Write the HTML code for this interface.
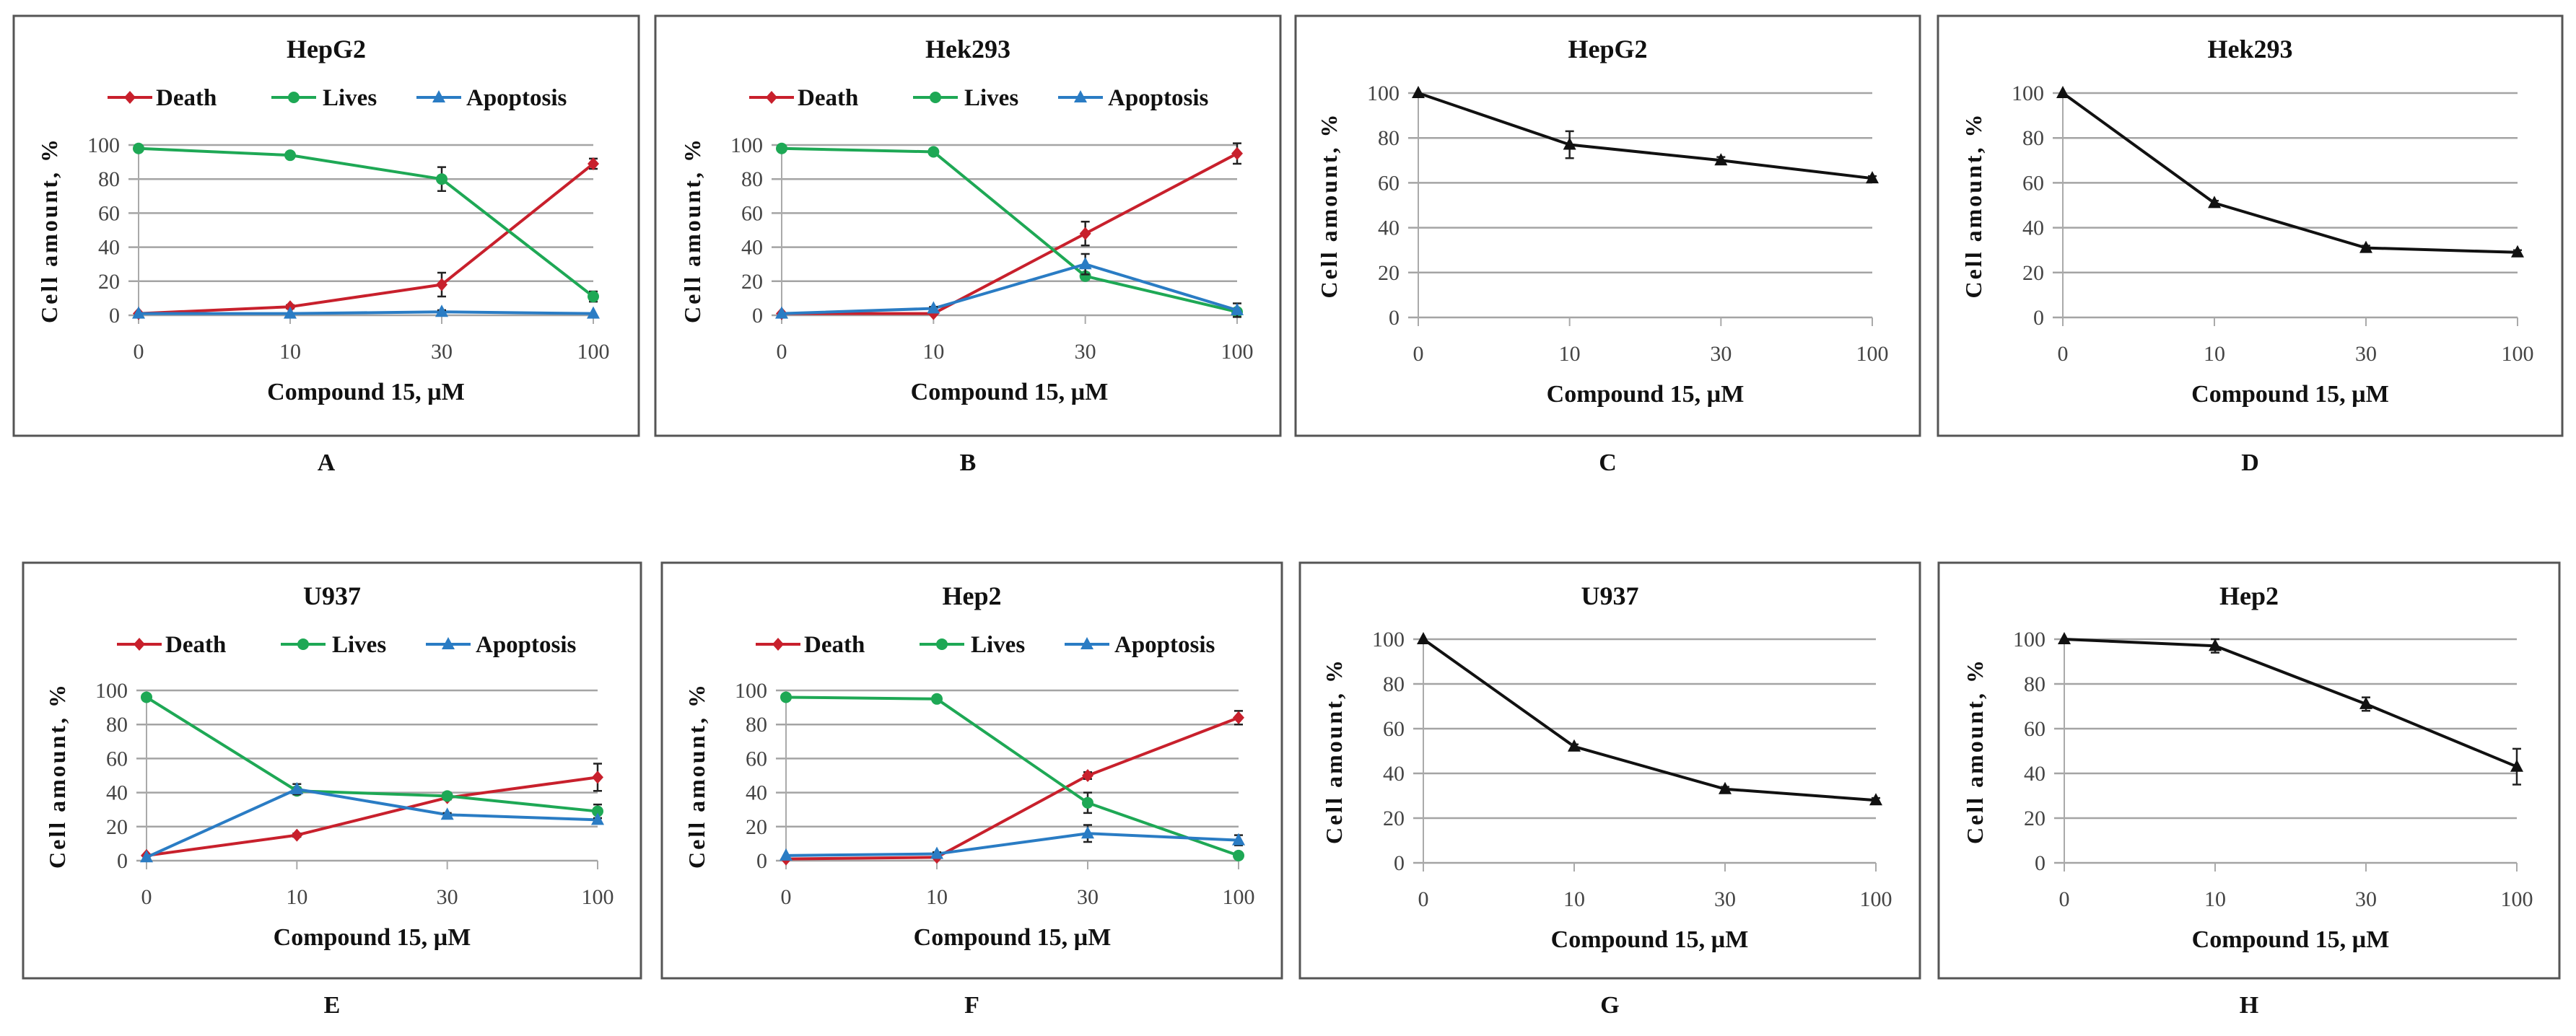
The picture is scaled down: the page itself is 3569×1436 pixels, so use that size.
<!DOCTYPE html>
<html><head><meta charset="utf-8"><style>
html,body{margin:0;padding:0;background:#fff;}
svg{display:block;}
text{font-family:"Liberation Serif","DejaVu Serif",serif;}
</style></head><body>
<svg id="fig" width="3569" height="1436" viewBox="0 0 3569 1436" xmlns="http://www.w3.org/2000/svg"></svg>
<script>
const categories = ["0","10","30","100"];
const yTicks = [0,20,40,60,80,100];
const seriesNames = ["Death","Lives","Apoptosis"];
// Panel A HepG2
const aDeath = [1,5,18,89];      const aDeathErr = [0,1,7,3];
const aLives = [98,94,80,11];    const aLivesErr = [0,1,7,3];
const aApop = [1,1,2,1];         const aApopErr = [0,0,1,0];
// Panel B Hek293
const bDeath = [1,1,48,95];      const bDeathErr = [0,0,7,6];
const bLives = [98,96,23,2];     const bLivesErr = [0,0,2,1];
const bApop = [1,4,30,3];        const bApopErr = [0,1,6,4];
// Panel C HepG2 viability
const cVals = [100,77,70,62];    const cErr = [0,6,1.5,1];
// Panel D Hek293 viability
const dVals = [100,51,31,29];    const dErr = [0,1,1,1];
// Panel E U937
const eDeath = [3,15,37,49];     const eDeathErr = [0,1,1,8];
const eLives = [96,41,38,29];    const eLivesErr = [0,2,2,4];
const eApop = [2,42,27,24];      const eApopErr = [0,3,1,1];
// Panel F Hep2
const fDeath = [1,2,50,84];      const fDeathErr = [0,0,2,4];
const fLives = [96,95,34,3];     const fLivesErr = [0,0,6,1];
const fApop = [3,4,16,12];       const fApopErr = [0,1,5,3];
// Panel G U937 viability
const gVals = [100,52,33,28];    const gErr = [0,1,1,1];
// Panel H Hep2 viability
const hVals = [100,97,71,43];    const hErr = [0,3,3,8];

const NS = "http://www.w3.org/2000/svg";
const svg = document.getElementById("fig");
function el(tag, attrs, parent){
  const e = document.createElementNS(NS, tag);
  for (const k in attrs) e.setAttribute(k, attrs[k]);
  (parent||svg).appendChild(e);
  return e;
}
const COLORS = {Death:"#c8202c", Lives:"#1ea855", Apoptosis:"#2a7cc4", Viability:"#111"};

function marker(g, kind, x, y, color){
  let m;
  if (kind==="Death"){
    m = el("polygon",{points:`${x},${y-9} ${x+8},${y} ${x},${y+9} ${x-8},${y}`,fill:color},g);
  } else if (kind==="Lives"){
    m = el("circle",{cx:x,cy:y,r:8,fill:color},g);
  } else {
    m = el("polygon",{points:`${x},${y-10} ${x+9},${y+7} ${x-9},${y+7}`,fill:color},g);
  }
  return m;
}

function panel(p){
  const g = el("g",{});
  
  
  const box = el("rect",{x:p.box[0],y:p.box[1],width:p.box[2]-p.box[0],height:p.box[3]-p.box[1],fill:"#fff",stroke:"#555","stroke-width":3},g);
  
  
  const xs = i => p.x0 + (p.x1 - p.x0) * i / (categories.length - 1);
  const ys = v => p.y0 - (p.y0 - p.y100) * v / 100;
  const cx = (p.box[0]+p.box[2])/2;
  const t = el("text",{x:cx,y:p.box[1]+58,"text-anchor":"middle","font-size":36,"font-weight":"bold",fill:"#111"},g);
  t.textContent = p.title;
  
  
  yTicks.forEach(v=>{
    const gl = el("line",{x1:p.x0-14,x2:p.x1,y1:ys(v),y2:ys(v),stroke:"#a4a4a4","stroke-width":2.5},g);
    
    
    const tl = el("text",{x:p.x0-26,y:ys(v)+10,"text-anchor":"end","font-size":30,fill:"#444"},g);
    tl.textContent = v;
    
    
  });
  const ya = el("line",{x1:p.x0,x2:p.x0,y1:p.y100,y2:p.y0+12,stroke:"#aaa","stroke-width":2},g);
  
  
  categories.forEach((c,i)=>{
    const tk = el("line",{x1:xs(i),x2:xs(i),y1:p.y0,y2:p.y0+12,stroke:"#aaa","stroke-width":2},g);
    
    
    const tl = el("text",{x:xs(i),y:p.y0+60,"text-anchor":"middle","font-size":30,fill:"#444"},g);
    tl.textContent = c;
    
    
  });
  const xt = el("text",{x:(p.x0+p.x1)/2,y:p.y0+117,"text-anchor":"middle","font-size":34,"font-weight":"bold",fill:"#111"},g);
  xt.textContent = "Compound 15, \u00b5M";
  
  
  const ylx = p.x0 - 113, yly = (p.y0 + p.y100)/2;
  const yt = el("text",{x:ylx,y:yly,"text-anchor":"middle","font-size":32,"font-weight":"bold",fill:"#111","letter-spacing":3,transform:`rotate(-90 ${ylx} ${yly})`},g);
  yt.textContent = "Cell amount, %";
  
  
  if (p.legend){
    const ly = p.box[1] + 113;
    const offs = [[130,197],[357,428],[558,627]];
    seriesNames.forEach((n,k)=>{
      const lg = el("g",{},g);
      
      
      const bx = p.box[0];
      el("line",{x1:bx+offs[k][0],x2:bx+offs[k][0]+62,y1:ly,y2:ly,stroke:COLORS[n],"stroke-width":4},lg);
      marker(lg,n,bx+offs[k][0]+31,ly,COLORS[n]);
      const lt = el("text",{x:bx+offs[k][1],y:ly+11,"font-size":33,"font-weight":"bold",fill:"#111"},lg);
      lt.textContent = n;
    });
  }
  p.series.forEach(s=>{
    const sg = el("g",{},g);
    
    
    const color = COLORS[s.name];
    const pts = s.vals.map((v,i)=>`${xs(i)},${ys(v)}`).join(" ");
    const ln = el("polyline",{points:pts,fill:"none",stroke:color,"stroke-width":4,"stroke-linejoin":"round"},sg);
    
    
    s.vals.forEach((v,i)=>{
      const e = s.err[i];
      if (e>0){
        const eb = el("path",{d:`M${xs(i)},${ys(v+e)}V${ys(v-e)}M${xs(i)-6},${ys(v+e)}H${xs(i)+6}M${xs(i)-6},${ys(v-e)}H${xs(i)+6}`,stroke:"#222","stroke-width":2.5,fill:"none"},sg);
        
        
      }
      const m = marker(sg, s.marker||s.name, xs(i), ys(v), color);
      
      
    });
  });
  const lab = el("text",{x:cx,y:p.box[3]+48,"text-anchor":"middle","font-size":34,"font-weight":"bold",fill:"#111"},g);
  lab.textContent = p.letter;
  
  
}
function tri(d,de,l,le,a,ae){return [{name:"Death",vals:d,err:de},{name:"Lives",vals:l,err:le},{name:"Apoptosis",vals:a,err:ae}];}
function one(v,e){return [{name:"Viability",marker:"Apoptosis",vals:v,err:e}];}

panel({letter:"A",title:"HepG2",legend:true,box:[19,22,885,604],x0:192,x1:822,y100:201,y0:437,series:tri(aDeath,aDeathErr,aLives,aLivesErr,aApop,aApopErr)});
panel({letter:"B",title:"Hek293",legend:true,box:[908,22,1774,604],x0:1083,x1:1714,y100:201,y0:437,series:tri(bDeath,bDeathErr,bLives,bLivesErr,bApop,bApopErr)});
panel({letter:"C",title:"HepG2",legend:false,box:[1795,22,2660,604],x0:1965,x1:2594,y100:129,y0:440,series:one(cVals,cErr)});
panel({letter:"D",title:"Hek293",legend:false,box:[2685,22,3550,604],x0:2858,x1:3488,y100:129,y0:440,series:one(dVals,dErr)});
panel({letter:"E",title:"U937",legend:true,box:[32,780,888,1356],x0:203,x1:828,y100:957,y0:1193,series:tri(eDeath,eDeathErr,eLives,eLivesErr,eApop,eApopErr)});
panel({letter:"F",title:"Hep2",legend:true,box:[917,780,1776,1356],x0:1089,x1:1716,y100:957,y0:1193,series:tri(fDeath,fDeathErr,fLives,fLivesErr,fApop,fApopErr)});
panel({letter:"G",title:"U937",legend:false,box:[1801,780,2660,1356],x0:1972,x1:2599,y100:886,y0:1196,series:one(gVals,gErr)});
panel({letter:"H",title:"Hep2",legend:false,box:[2686,780,3546,1356],x0:2860,x1:3487,y100:886,y0:1196,series:one(hVals,hErr)});
</script>
</body></html>
